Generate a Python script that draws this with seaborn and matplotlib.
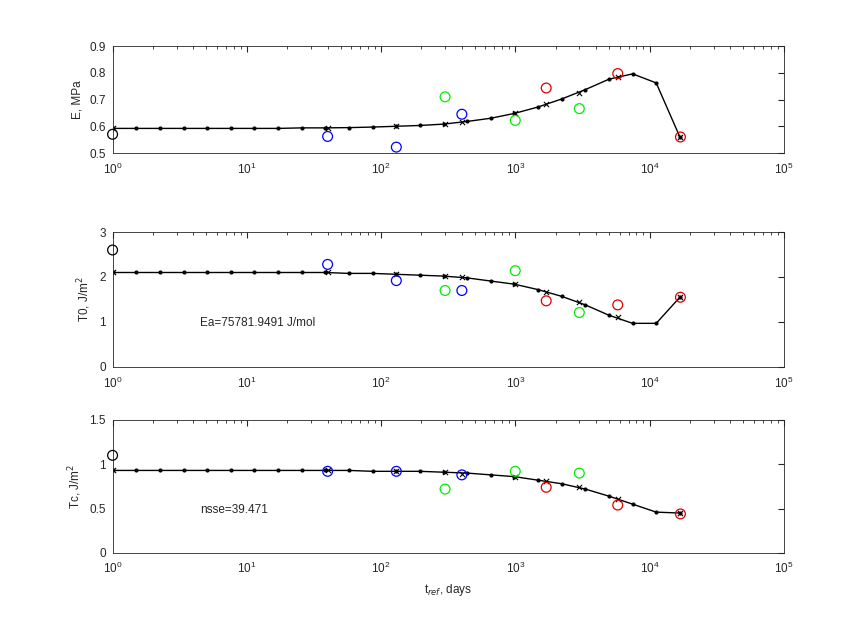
import matplotlib
matplotlib.use("Agg")
import matplotlib.pyplot as plt
import pandas as pd
import seaborn as sns

# model curve evaluation times (days)
t_curve = [1, 1.5, 2.25, 3.38, 5.06, 7.59, 11.4, 17.1, 25.6, 38.4, 57.7, 86.5,
           130, 195, 292, 438, 657, 985, 1478, 2217, 3325, 4988, 7482, 11223, 16834]
E_curve = [0.592, 0.592, 0.592, 0.592, 0.592, 0.592, 0.592, 0.592, 0.594, 0.594, 0.595, 0.597,
           0.600, 0.603, 0.608, 0.618, 0.630, 0.648, 0.672, 0.702, 0.737, 0.776, 0.796, 0.762, 0.560]
T0_curve = [2.10, 2.10, 2.10, 2.10, 2.10, 2.10, 2.10, 2.10, 2.10, 2.10, 2.08, 2.08,
            2.06, 2.04, 2.02, 1.98, 1.91, 1.84, 1.72, 1.57, 1.38, 1.15, 0.97, 0.97, 1.55]
Tc_curve = [0.93, 0.93, 0.93, 0.93, 0.93, 0.93, 0.93, 0.93, 0.93, 0.93, 0.93, 0.92,
            0.92, 0.92, 0.91, 0.90, 0.88, 0.86, 0.82, 0.78, 0.72, 0.64, 0.55, 0.46, 0.45]

# measurement times and model values at them
t_meas = [1, 40, 130, 300, 400, 1000, 1700, 3000, 5800, 17000]
E_fit = [0.592, 0.595, 0.600, 0.610, 0.615, 0.648, 0.682, 0.726, 0.783, 0.560]
T0_fit = [2.10, 2.10, 2.06, 2.02, 2.00, 1.84, 1.66, 1.44, 1.12, 1.55]
Tc_fit = [0.93, 0.93, 0.92, 0.91, 0.89, 0.86, 0.81, 0.74, 0.61, 0.45]

# measured values
E_meas = [0.570, 0.562, 0.522, 0.710, 0.645, 0.622, 0.743, 0.666, 0.797, 0.560]
T0_meas = [2.60, 2.28, 1.92, 1.70, 1.70, 2.14, 1.47, 1.21, 1.38, 1.55]
Tc_meas = [1.10, 0.92, 0.92, 0.72, 0.88, 0.92, 0.74, 0.90, 0.54, 0.44]
group = ["k", "b", "b", "g", "b", "g", "r", "g", "r", "r"]
group_colors = {"k": "black", "b": "#0000ff", "g": "#00ee00", "r": "#dd0000"}

sns.set_style("white")
plt.rcParams["font.family"] = ["Liberation Sans", "DejaVu Sans"]
plt.rcParams["font.size"] = 8.5

fig = plt.figure(figsize=(8.66, 6.22), dpi=100)
rects = [[0.13, 0.754, 0.775, 0.172],
         [0.13, 0.410, 0.775, 0.217],
         [0.13, 0.111, 0.775, 0.214]]
panels = [
    (E_curve, E_fit, E_meas, "E, MPa", (0.5, 0.9), [0.5, 0.6, 0.7, 0.8, 0.9], None),
    (T0_curve, T0_fit, T0_meas, "T0, J/m$^2$", (0, 3), [0, 1, 2, 3], "Ea=75781.9491 J/mol"),
    (Tc_curve, Tc_fit, Tc_meas, "Tc, J/m$^2$", (0, 1.5), [0, 0.5, 1, 1.5], "nsse=39.471"),
]

for rect, (curve, fit, meas, ylabel, ylim, yticks, note) in zip(rects, panels):
    ax = fig.add_axes(rect)
    sns.lineplot(x=t_curve, y=curve, ax=ax, color="black", lw=1,
                 marker="o", markersize=3, markeredgewidth=0)
    sns.scatterplot(x=t_meas, y=fit, ax=ax, color="black", edgecolor="black",
                    marker="x", s=14, linewidth=0.8)
    df = pd.DataFrame({"t": t_meas, "v": meas, "g": group})
    for g, col in group_colors.items():
        sub = df[df["g"] == g]
        sns.scatterplot(data=sub, x="t", y="v", ax=ax, marker="o", s=50,
                        facecolor="none", edgecolor=col, linewidth=0.9,
                        legend=False, clip_on=False, zorder=5)
    ax.set_xscale("log")
    ax.set_xlim(1, 1e5)
    ax.set_ylim(*ylim)
    ax.set_yticks(yticks)
    ax.set_yticklabels([f"{v:g}" for v in yticks])
    ax.set_ylabel(ylabel)
    ax.set_xlabel("")
    ax.tick_params(which="both", direction="in", top=True, right=True, length=4)
    ax.tick_params(which="minor", length=2)
    ax.tick_params(axis="x", pad=6)
    ax.tick_params(axis="y", pad=5)
    for s in ax.spines.values():
        s.set_linewidth(0.6)
    if note:
        ax.text(4.5, ylim[1] * 0.3, note, fontsize=8.5)

fig.axes[-1].set_xlabel("t$_{ref}$, days")
fig.savefig("out.png", dpi=100)
